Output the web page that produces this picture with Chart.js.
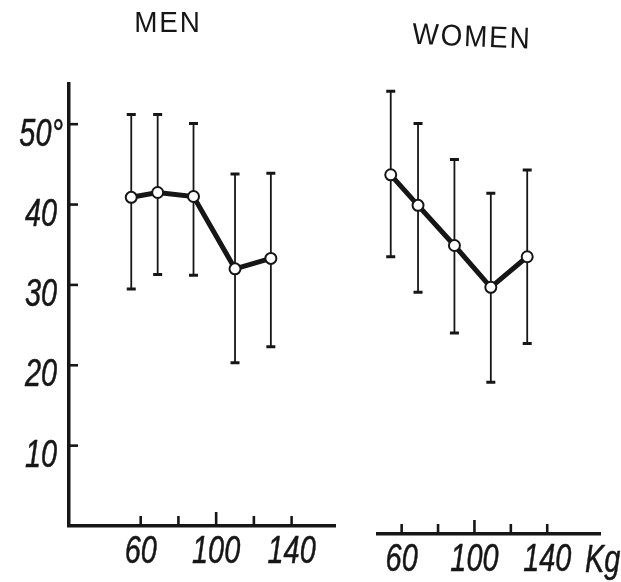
<!DOCTYPE html>
<html>
<head>
<meta charset="utf-8">
<script src="https://cdn.jsdelivr.net/npm/chart.js@4.4.1/dist/chart.umd.min.js"></script>
<style>
  html, body { margin: 0; padding: 0; background: #fff; }
  #wrap { position: relative; width: 621px; height: 582px; overflow: hidden; }
  canvas { position: absolute; top: 0; }
  #men { left: 0; }
  #women { left: 340px; }
</style>
</head>
<body>
<div id="wrap">
  <canvas id="men" width="345" height="582"></canvas>
  <canvas id="women" width="281" height="582"></canvas>
</div>
<script>
// Body weight classes (kg) and angle values (degrees): mean with range bars
const WEIGHT_MEN = [55, 69, 88, 110, 129];
const MEAN_MEN   = [40.9, 41.5, 41.0, 32.0, 33.3];
const HIGH_MEN   = [51.2, 51.2, 50.1, 43.8, 43.9];
const LOW_MEN    = [29.5, 31.3, 31.2, 20.3, 22.3];

const WEIGHT_WOMEN = [54, 69, 89, 109, 129];
const MEAN_WOMEN   = [43.7, 39.9, 34.9, 29.7, 33.5];
const HIGH_WOMEN   = [54.1, 50.1, 45.6, 41.4, 44.3];
const LOW_WOMEN    = [33.5, 29.1, 24.0, 17.9, 22.7];

const Y_TICKS = [10, 20, 30, 40, 50];
const X_TICKS = [60, 80, 100, 120, 140];
const X_LABELED = [60, 100, 140];

const INK = '#161616';
const NUM_FONT = "italic 38px 'Liberation Sans', Arimo, sans-serif";
const NUM_SQUEEZE = 0.76;   // narrow lettering for the numerals

function drawNarrow(ctx, text, x, y, align) {
  ctx.save();
  ctx.translate(x, y);
  ctx.scale(NUM_SQUEEZE, 1);
  ctx.font = NUM_FONT;
  ctx.textAlign = align;
  ctx.textBaseline = 'alphabetic';
  ctx.lineWidth = 0.5;
  ctx.lineJoin = 'round';
  ctx.fillText(text, 0, 0);
  ctx.strokeText(text, 0, 0);
  ctx.restore();
}

// Range bars behind the mean line; inward tick marks, numerals and headings on top
const panelDecor = {
  id: 'panelDecor',
  beforeDatasetsDraw(chart, args, opts) {
    const { ctx } = chart;
    const xs = chart.scales.x, ys = chart.scales.y;
    ctx.save();
    ctx.strokeStyle = INK;
    opts.weights.forEach((w, i) => {
      const px = xs.getPixelForValue(w);
      const pHi = ys.getPixelForValue(opts.high[i]);
      const pLo = ys.getPixelForValue(opts.low[i]);
      ctx.lineWidth = 1.8;
      ctx.beginPath(); ctx.moveTo(px, pHi); ctx.lineTo(px, pLo); ctx.stroke();
      ctx.lineWidth = 3;
      ctx.beginPath();
      ctx.moveTo(px - 4.5, pHi); ctx.lineTo(px + 4.5, pHi);
      ctx.moveTo(px - 4.5, pLo); ctx.lineTo(px + 4.5, pLo);
      ctx.stroke();
    });
    ctx.restore();
  },
  afterDraw(chart, args, opts) {
    const { ctx, chartArea } = chart;
    const xs = chart.scales.x, ys = chart.scales.y;
    ctx.save();
    ctx.strokeStyle = INK;
    ctx.fillStyle = INK;
    X_TICKS.forEach(v => {
      const px = xs.getPixelForValue(v);
      const len = v === 100 ? 14 : 10;
      ctx.lineWidth = 2.6;
      ctx.beginPath(); ctx.moveTo(px, chartArea.bottom); ctx.lineTo(px, chartArea.bottom - len); ctx.stroke();
      if (X_LABELED.includes(v)) drawNarrow(ctx, String(v), px, chartArea.bottom + 37, 'center');
    });
    if (opts.yTicks) {
      Y_TICKS.forEach(v => {
        const py = ys.getPixelForValue(v);
        ctx.lineWidth = 2.6;
        ctx.beginPath(); ctx.moveTo(chartArea.left, py); ctx.lineTo(chartArea.left + 9, py); ctx.stroke();
        if (v === 50) drawNarrow(ctx, '50°', chartArea.left - 6, py + 22, 'right');
        else drawNarrow(ctx, String(v), chartArea.left - 12, py + 21, 'right');
      });
    }
    if (opts.unit) drawNarrow(ctx, opts.unit, opts.unitX, opts.unitY, 'left');

    ctx.save();
    ctx.translate(opts.headingX, opts.headingY);
    ctx.rotate(opts.headingTilt);
    ctx.textAlign = 'center';
    ctx.textBaseline = 'middle';
    ctx.font = "30px 'Liberation Sans', Arimo, sans-serif";
    if ('letterSpacing' in ctx) ctx.letterSpacing = opts.headingSpacing;
    ctx.scale(0.93, 1);
    ctx.fillText(opts.heading, 0, 0);
    ctx.restore();
    ctx.restore();
  }
};

function makePanel(id, cfg) {
  return new Chart(document.getElementById(id), {
    type: 'scatter',
    data: {
      datasets: [{
        data: cfg.weights.map((w, i) => ({ x: w, y: cfg.mean[i] })),
        showLine: true,
        borderColor: INK,
        borderWidth: 5,
        tension: 0,
        pointRadius: 5.5,
        pointHoverRadius: 5.5,
        pointBackgroundColor: '#fff',
        pointBorderColor: INK,
        pointBorderWidth: 2
      }]
    },
    options: {
      responsive: false,
      animation: false,
      events: [],
      layout: { padding: cfg.padding },
      plugins: {
        legend: { display: false },
        tooltip: { enabled: false },
        title: { display: false },
        panelDecor: {
          weights: cfg.weights, high: cfg.high, low: cfg.low,
          yTicks: cfg.showY, heading: cfg.heading,
          headingX: cfg.headingX, headingY: cfg.headingY,
          headingTilt: cfg.headingTilt, headingSpacing: cfg.headingSpacing,
          unit: cfg.unit, unitX: cfg.unitX, unitY: cfg.unitY
        }
      },
      scales: {
        x: {
          type: 'linear',
          min: cfg.xMin, max: cfg.xMax,
          afterBuildTicks: s => { s.ticks = X_TICKS.map(v => ({ value: v })); },
          afterFit: s => { s.height = cfg.xHeight; },
          grid: { display: false },
          border: { display: true, color: INK, width: 3.5 },
          ticks: { display: false }
        },
        y: {
          type: 'linear',
          display: cfg.showY,
          min: cfg.yMin, max: 55,
          afterBuildTicks: s => { s.ticks = Y_TICKS.map(v => ({ value: v })); },
          afterFit: s => { s.width = cfg.showY ? 69 : 0; },
          grid: { display: false },
          border: { display: true, color: INK, width: 3.5 },
          ticks: { display: false }
        }
      }
    },
    plugins: [panelDecor]
  });
}

makePanel('men', {
  weights: WEIGHT_MEN, mean: MEAN_MEN, high: HIGH_MEN, low: LOW_MEN,
  showY: true, yMin: 0, xMin: 22, xMax: 163,
  padding: { top: 84, right: 10, left: 0, bottom: 0 },
  xHeight: 56,
  heading: 'MEN', headingX: 168, headingY: 24, headingTilt: 0, headingSpacing: '2px'
});

makePanel('women', {
  weights: WEIGHT_WOMEN, mean: MEAN_WOMEN, high: HIGH_WOMEN, low: LOW_WOMEN,
  showY: false, yMin: -1, xMin: 47, xMax: 169,
  padding: { top: 84, right: 21, left: 38, bottom: 0 },
  xHeight: 48,
  heading: 'WOMEN', headingX: 132, headingY: 38, headingTilt: 0.04, headingSpacing: '2px',
  unit: 'Kg', unitX: 245, unitY: 572
});
</script>
</body>
</html>
